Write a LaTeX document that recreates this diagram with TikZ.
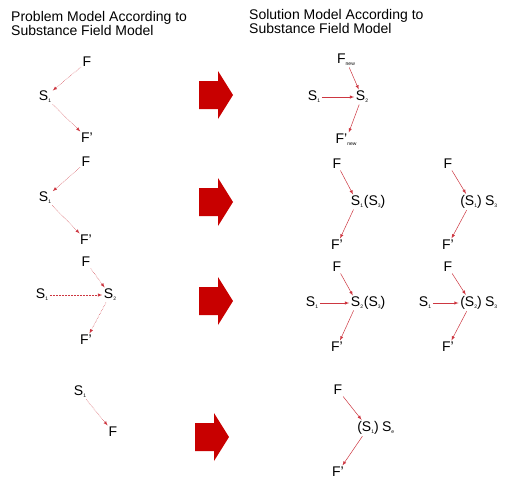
\documentclass[tikz,border=0pt]{standalone}
\usepackage{fontspec}
\setmainfont{Liberation Sans}
\usetikzlibrary{positioning}

\definecolor{linkred}{RGB}{205,55,65}
\definecolor{blockred}{RGB}{200,0,0}
\newcommand{\idx}[1]{\raisebox{-0.25ex}{\fontsize{5}{5}\selectfont #1}}

\tikzset{
  lbl/.style={font=\fontsize{14}{14}\selectfont, inner sep=1.5pt},
  ttl/.style={font=\fontsize{14}{13}\selectfont, align=left, anchor=north west, inner sep=0pt},
  probline/.style={->, linkred, densely dotted, line width=0.5pt},
  solline/.style={->, linkred, line width=0.5pt},
  bigarrow/.pic={\fill[blockred] (0,-14) -- (19,-14) -- (19,-24) -- (34,0) -- (19,24) -- (19,14) -- (0,14) -- cycle;}
}

\begin{document}
\begin{tikzpicture}[x=1pt, y=-1pt, >=latex]
  \useasboundingbox (0,0) rectangle (505,480);
  % titles
  \node[ttl] (tprob) at (11,11) {Problem Model According to\\Substance Field Model};
  \node[ttl] (tsol) at (249,9) {Solution Model According to\\Substance Field Model};

  % block arrows
  \foreach \y/\x in {95/199, 202/199, 301/199, 437/195}
    \pic at (\x,\y) {bigarrow};

  % row 1
  \node[lbl] (f1) at (87,62) {F};
  \node[lbl] (s1) at (45,97) {S\idx{1}};
  \node[lbl] (fp1) at (87,138) {F'};
  \draw[probline] (f1) -- (s1);
  \draw[probline] (s1) -- (fp1);

  \node[lbl] (fn1) at (346,60) {F\idx{new}};
  \node[lbl] (s1r) at (314,97) {S\idx{1}};
  \node[lbl] (s2r) at (362,97) {S\idx{2}};
  \node[lbl] (fpn1) at (346,140) {F'\idx{new}};
  \draw[solline] (fn1) -- (s2r);
  \draw[solline] (s1r) -- (s2r);
  \draw[solline] (s2r) -- (fpn1);

  % row 2
  \node[lbl] (f2) at (86,162) {F};
  \node[lbl] (s2) at (45,198) {S\idx{1}};
  \node[lbl] (fp2) at (86,240) {F'};
  \draw[probline] (f2) -- (s2);
  \draw[probline] (s2) -- (fp2);

  \node[lbl] (f2a) at (337,164) {F};
  \node[lbl] (m2a) at (357,202) {S\idx{1}};
  \node[lbl, base right=-2.5pt of m2a] (x2a) {(S\idx{3})};
  \node[lbl] (fp2a) at (337,245) {F'};
  \draw[solline] (f2a) -- (m2a);
  \draw[solline] (m2a) -- (fp2a);

  \node[lbl] (f2b) at (448,164) {F};
  \node[lbl] (m2b) at (471,202) {(S\idx{1})};
  \node[lbl, base right=0pt of m2b] (x2b) {S\idx{3}};
  \node[lbl] (fp2b) at (448,245) {F'};
  \draw[solline] (f2b) -- (m2b);
  \draw[solline] (m2b) -- (fp2b);

  % row 3
  \node[lbl] (f3) at (86,262) {F};
  \node[lbl] (s3a) at (42,295) {S\idx{1}};
  \node[lbl] (s3b) at (110,295) {S\idx{2}};
  \node[lbl] (fp3) at (86,340) {F'};
  \draw[probline] (f3) -- (s3b);
  \draw[probline] (s3a) -- (s3b);
  \draw[probline] (s3b) -- (fp3);

  \node[lbl] (f3a) at (337,267) {F};
  \node[lbl] (s3al) at (312,303) {S\idx{1}};
  \node[lbl] (m3a) at (357,303) {S\idx{2}};
  \node[lbl, base right=-2.5pt of m3a] (x3a) {(S\idx{3})};
  \node[lbl] (fp3a) at (337,347) {F'};
  \draw[solline] (f3a) -- (m3a);
  \draw[solline] (s3al) -- (m3a);
  \draw[solline] (m3a) -- (fp3a);

  \node[lbl] (f3b) at (448,267) {F};
  \node[lbl] (s3bl) at (425,303) {S\idx{1}};
  \node[lbl] (m3b) at (471,303) {(S\idx{2})};
  \node[lbl, base right=0pt of m3b] (x3b) {S\idx{3}};
  \node[lbl] (fp3b) at (448,347) {F'};
  \draw[solline] (f3b) -- (m3b);
  \draw[solline] (s3bl) -- (m3b);
  \draw[solline] (m3b) -- (fp3b);

  % row 4
  \node[lbl] (s4) at (80,392) {S\idx{1}};
  \node[lbl] (f4) at (113,432) {F};
  \draw[probline] (s4) -- (f4);

  \node[lbl] (f4r) at (338,390) {F};
  \node[lbl] (m4) at (368,428) {(S\idx{1})};
  \node[lbl, base right=0pt of m4] (x4) {S\idx{e}};
  \node[lbl] (fp4) at (338,472) {F'};
  \draw[solline] (f4r) -- (m4);
  \draw[solline] (m4) -- (fp4);
\end{tikzpicture}
\end{document}
